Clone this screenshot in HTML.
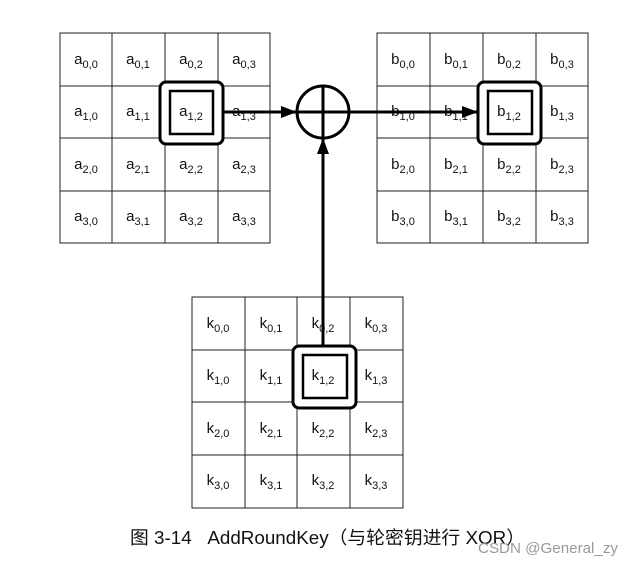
<!DOCTYPE html>
<html><head><meta charset="utf-8"><style>
html,body{margin:0;padding:0;background:#fff;}
svg{display:block;}
text{font-family:"Liberation Sans",Arial,sans-serif;font-size:15px;fill:#111;}
.s{font-size:11px;}
</style></head><body>
<svg width="634" height="565" viewBox="0 0 634 565" xmlns="http://www.w3.org/2000/svg">
<defs>
<marker id="ar2" markerWidth="16" markerHeight="12" refX="16" refY="6" orient="auto" markerUnits="userSpaceOnUse" viewBox="0 0 16 12">
<path d="M0,0 L16,6 L0,12 Z" fill="#000"/></marker>
</defs>
<g stroke="#222" stroke-width="1" fill="none">
<rect x="60" y="33" width="210" height="210"/>
<line x1="112" y1="33" x2="112" y2="243"/><line x1="165" y1="33" x2="165" y2="243"/><line x1="218" y1="33" x2="218" y2="243"/>
<line x1="60" y1="86" x2="270" y2="86"/><line x1="60" y1="138" x2="270" y2="138"/><line x1="60" y1="191" x2="270" y2="191"/>
<rect x="377" y="33" width="211" height="210"/>
<line x1="430" y1="33" x2="430" y2="243"/><line x1="483" y1="33" x2="483" y2="243"/><line x1="536" y1="33" x2="536" y2="243"/>
<line x1="377" y1="86" x2="588" y2="86"/><line x1="377" y1="138" x2="588" y2="138"/><line x1="377" y1="191" x2="588" y2="191"/>
<rect x="192" y="297" width="211" height="211"/>
<line x1="245" y1="297" x2="245" y2="508"/><line x1="297" y1="297" x2="297" y2="508"/><line x1="350" y1="297" x2="350" y2="508"/>
<line x1="192" y1="350" x2="403" y2="350"/><line x1="192" y1="402" x2="403" y2="402"/><line x1="192" y1="455" x2="403" y2="455"/>
</g>
<g stroke="#000" fill="#fff">
<rect x="160" y="82" width="63" height="62" rx="6" stroke-width="3"/>
<rect x="170" y="91" width="43" height="43" stroke-width="2.5"/>
<rect x="478" y="82" width="63" height="62" rx="6" stroke-width="3"/>
<rect x="488" y="91" width="44" height="43" stroke-width="2.5"/>
<rect x="293" y="346" width="63" height="62" rx="6" stroke-width="3"/>
<rect x="303" y="355" width="44" height="43" stroke-width="2.5"/>
</g>
<g text-anchor="middle">
<text x="86" y="64">a<tspan class="s" dy="4">0,0</tspan></text>
<text x="138" y="64">a<tspan class="s" dy="4">0,1</tspan></text>
<text x="191" y="64">a<tspan class="s" dy="4">0,2</tspan></text>
<text x="244" y="64">a<tspan class="s" dy="4">0,3</tspan></text>
<text x="86" y="116">a<tspan class="s" dy="4">1,0</tspan></text>
<text x="138" y="116">a<tspan class="s" dy="4">1,1</tspan></text>
<text x="191" y="116">a<tspan class="s" dy="4">1,2</tspan></text>
<text x="244" y="116">a<tspan class="s" dy="4">1,3</tspan></text>
<text x="86" y="169">a<tspan class="s" dy="4">2,0</tspan></text>
<text x="138" y="169">a<tspan class="s" dy="4">2,1</tspan></text>
<text x="191" y="169">a<tspan class="s" dy="4">2,2</tspan></text>
<text x="244" y="169">a<tspan class="s" dy="4">2,3</tspan></text>
<text x="86" y="221">a<tspan class="s" dy="4">3,0</tspan></text>
<text x="138" y="221">a<tspan class="s" dy="4">3,1</tspan></text>
<text x="191" y="221">a<tspan class="s" dy="4">3,2</tspan></text>
<text x="244" y="221">a<tspan class="s" dy="4">3,3</tspan></text>

<text x="403" y="64">b<tspan class="s" dy="4">0,0</tspan></text>
<text x="456" y="64">b<tspan class="s" dy="4">0,1</tspan></text>
<text x="509" y="64">b<tspan class="s" dy="4">0,2</tspan></text>
<text x="562" y="64">b<tspan class="s" dy="4">0,3</tspan></text>
<text x="403" y="116">b<tspan class="s" dy="4">1,0</tspan></text>
<text x="456" y="116">b<tspan class="s" dy="4">1,1</tspan></text>
<text x="509" y="116">b<tspan class="s" dy="4">1,2</tspan></text>
<text x="562" y="116">b<tspan class="s" dy="4">1,3</tspan></text>
<text x="403" y="169">b<tspan class="s" dy="4">2,0</tspan></text>
<text x="456" y="169">b<tspan class="s" dy="4">2,1</tspan></text>
<text x="509" y="169">b<tspan class="s" dy="4">2,2</tspan></text>
<text x="562" y="169">b<tspan class="s" dy="4">2,3</tspan></text>
<text x="403" y="221">b<tspan class="s" dy="4">3,0</tspan></text>
<text x="456" y="221">b<tspan class="s" dy="4">3,1</tspan></text>
<text x="509" y="221">b<tspan class="s" dy="4">3,2</tspan></text>
<text x="562" y="221">b<tspan class="s" dy="4">3,3</tspan></text>

<text x="218" y="328">k<tspan class="s" dy="4">0,0</tspan></text>
<text x="271" y="328">k<tspan class="s" dy="4">0,1</tspan></text>
<text x="323" y="328">k<tspan class="s" dy="4">0,2</tspan></text>
<text x="376" y="328">k<tspan class="s" dy="4">0,3</tspan></text>
<text x="218" y="380">k<tspan class="s" dy="4">1,0</tspan></text>
<text x="271" y="380">k<tspan class="s" dy="4">1,1</tspan></text>
<text x="323" y="380">k<tspan class="s" dy="4">1,2</tspan></text>
<text x="376" y="380">k<tspan class="s" dy="4">1,3</tspan></text>
<text x="218" y="433">k<tspan class="s" dy="4">2,0</tspan></text>
<text x="271" y="433">k<tspan class="s" dy="4">2,1</tspan></text>
<text x="323" y="433">k<tspan class="s" dy="4">2,2</tspan></text>
<text x="376" y="433">k<tspan class="s" dy="4">2,3</tspan></text>
<text x="218" y="485">k<tspan class="s" dy="4">3,0</tspan></text>
<text x="271" y="485">k<tspan class="s" dy="4">3,1</tspan></text>
<text x="323" y="485">k<tspan class="s" dy="4">3,2</tspan></text>
<text x="376" y="485">k<tspan class="s" dy="4">3,3</tspan></text>
</g>
<g stroke="#000" fill="none">
<circle cx="323" cy="112" r="26" stroke-width="3" fill="#fff"/>
<line x1="297" y1="112" x2="349" y2="112" stroke-width="3"/>
<line x1="323" y1="86" x2="323" y2="138" stroke-width="3"/>
<line x1="223" y1="112" x2="297" y2="112" stroke-width="3" marker-end="url(#ar2)"/>
<line x1="349" y1="112" x2="478" y2="112" stroke-width="3" marker-end="url(#ar2)"/>
<line x1="323" y1="346" x2="323" y2="138" stroke-width="3" marker-end="url(#ar2)"/>
</g>
<text x="130" y="544" style="font-size:18px;font-family:'Liberation Sans','Noto Sans CJK SC',sans-serif;" textLength="395" lengthAdjust="spacingAndGlyphs">图 3-14&#160;&#160;&#160;AddRoundKey（与轮密钥进行 XOR）</text>
<text x="478" y="553" style="font-size:15px;fill:#999;" textLength="140" lengthAdjust="spacingAndGlyphs">CSDN @General_zy</text>
</svg>
</body></html>
